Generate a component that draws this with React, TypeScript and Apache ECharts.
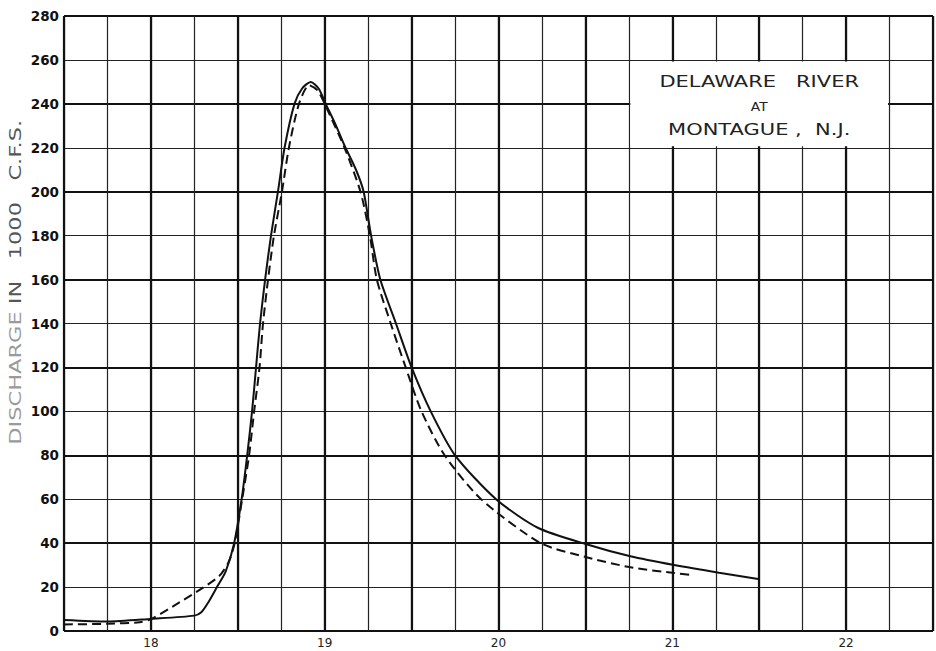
import React, { useEffect, useRef } from "react";
import * as echarts from "echarts";

// Observed hydrograph (solid)
const observedDays = [17.5, 17.75, 18.0, 18.25, 18.29, 18.33, 18.38, 18.43, 18.479, 18.522, 18.554, 18.582, 18.605, 18.628, 18.657, 18.691, 18.731, 18.769, 18.826, 18.87, 18.92, 18.965, 19.006, 19.06, 19.12, 19.18, 19.224, 19.267, 19.32, 19.41, 19.5, 19.61, 19.75, 19.986, 20.226, 20.501, 20.759, 21.011, 21.269, 21.503];
const observedFlow = [5, 4.3, 5.5, 7, 8.5, 13, 20, 27, 40, 60, 80, 100, 120, 140, 160, 180, 200, 220, 240, 247, 250, 247, 240, 231, 220, 210, 200, 180, 160, 140, 120, 100, 80, 60, 47, 39.6, 34, 30, 26.5, 23.6];

// Computed hydrograph (dashed)
const computedDays = [17.5, 17.75, 17.935, 18.004, 18.164, 18.296, 18.393, 18.445, 18.482, 18.525, 18.565, 18.594, 18.625, 18.645, 18.674, 18.708, 18.754, 18.794, 18.852, 18.91, 18.96, 19.0, 19.114, 19.206, 19.26, 19.3, 19.38, 19.466, 19.557, 19.69, 19.9, 20.243, 20.501, 20.759, 21.011, 21.114];
const computedFlow = [3, 3.3, 4, 5.5, 13, 19.5, 25, 31, 40, 60, 80, 100, 120, 140, 160, 180, 200, 220, 240, 248.5, 246, 240, 220, 200, 180, 160, 140, 120, 100, 80, 60, 40, 33.7, 29, 26.4, 25.5];

const dayLabels = [18, 19, 20, 21, 22];
const titleLines = ["DELAWARE   RIVER", "AT", "MONTAGUE ,  N.J."];

const zip = (xs: number[], ys: number[]) => xs.map((x, i) => [x, ys[i]]);

export default function App() {
  const ref = useRef<HTMLDivElement>(null);
  useEffect(() => {
    const chart = echarts.init(ref.current!, null, { renderer: "svg" });
    const thin = { show: true, lineStyle: { color: "#222", width: 1.2 } };
    const thick = { show: true, lineStyle: { color: "#111", width: 2.2 } };
    chart.setOption({
      animation: false,
      backgroundColor: "#fff",
      grid: { left: 64, top: 16, right: -3, bottom: 20, containLabel: false },
      xAxis: [
        {
          type: "value", min: 17.5, max: 22.5, interval: 0.25, position: "bottom",
          axisLine: { show: false }, axisTick: { show: false },
          splitLine: thin,
          axisLabel: {
            margin: 6, color: "#222", fontSize: 12, fontFamily: "DejaVu Sans",
            formatter: (v: number) => (dayLabels.indexOf(Math.round(v * 100) / 100) >= 0 ? String(v) : ""),
          },
        },
        {
          type: "value", min: 17.5, max: 22.5, interval: 0.5, position: "top",
          axisLine: { show: false }, axisTick: { show: false }, axisLabel: { show: false },
          splitLine: thick,
        },
      ],
      yAxis: [
        {
          type: "value", min: 0, max: 280, interval: 20,
          axisLine: { show: false }, axisTick: { show: false },
          splitLine: thin,
          axisLabel: { margin: 5, color: "#111", fontSize: 13.5, fontWeight: "bold", fontFamily: "DejaVu Sans" },
        },
        {
          type: "value", min: 0, max: 280, interval: 40, position: "right",
          axisLine: { show: false }, axisTick: { show: false }, axisLabel: { show: false },
          splitLine: thick,
        },
      ],
      series: [
        {
          type: "line", data: zip(observedDays, observedFlow), showSymbol: false, smooth: 0.25,
          lineStyle: { color: "#111", width: 2 }, z: 5,
        },
        {
          type: "line", data: zip(computedDays, computedFlow), showSymbol: false, smooth: 0.25,
          lineStyle: { color: "#111", width: 2, type: [9, 5] }, z: 5,
        },
      ],
    });
    const p1 = chart.convertToPixel({ seriesIndex: 0 }, [20.75, 260]) as number[];
    const p2 = chart.convertToPixel({ seriesIndex: 0 }, [22.25, 220]) as number[];
    const cx = (p1[0] + p2[0]) / 2;
    const textStyle = { fill: "#222", fontSize: 15, fontFamily: "DejaVu Sans", align: "center", verticalAlign: "middle" };
    chart.setOption({
      graphic: [
        { type: "rect", z: 10, shape: { x: p1[0] + 1.5, y: p1[1] + 1.5, width: p2[0] - p1[0] - 3, height: p2[1] - p1[1] - 3 }, style: { fill: "#fff" } },
        { type: "text", z: 11, x: cx, y: p1[1] + 22, scaleX: 1.4, style: { ...textStyle, text: titleLines[0] } },
        { type: "text", z: 11, x: cx, y: p1[1] + 47, scaleX: 1.15, style: { ...textStyle, fontSize: 12, text: titleLines[1] } },
        { type: "text", z: 11, x: cx, y: p1[1] + 70, scaleX: 1.4, style: { ...textStyle, text: titleLines[2] } },
        { type: "text", z: 11, x: 16, y: 378, rotation: Math.PI / 2, scaleX: 1.5, style: { fill: "#9a9a9a", fontSize: 15, fontFamily: "DejaVu Sans", align: "center", verticalAlign: "middle", text: "DISCHARGE" } },
        { type: "text", z: 11, x: 16, y: 212, rotation: Math.PI / 2, scaleX: 1.5, style: { fill: "#555", fontSize: 15, fontFamily: "DejaVu Sans", align: "center", verticalAlign: "middle", text: "IN   1000   C.F.S." } },
      ],
    });
    return () => chart.dispose();
  }, []);
  return <div ref={ref} style={{ position: "fixed", left: 0, top: 0, width: 936, height: 651, background: "#fff" }} />;
}
